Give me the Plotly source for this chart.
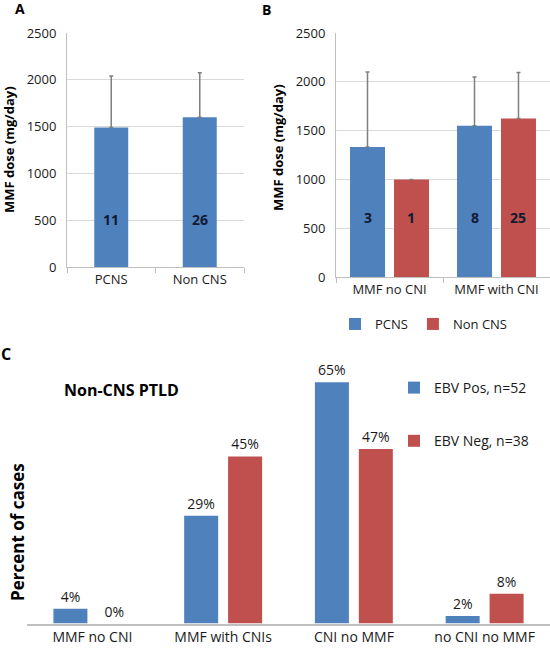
import plotly.graph_objects as go

# ---------------- data ----------------
# Panel A
a_categories = ["PCNS", "Non CNS"]
a_means = [1490, 1600]
a_sd = [550, 475]
a_counts = ["11", "26"]

# Panel B
b_categories = ["MMF no CNI", "MMF with CNI"]
b_pcns_means = [1333, 1550]
b_pcns_sd = [767, 500]
b_pcns_counts = ["3", "8"]
b_noncns_means = [1000, 1625]
b_noncns_sd = [0, 470]
b_noncns_counts = ["1", "25"]
b_series = ["PCNS", "Non CNS"]

# Panel C
c_categories = ["MMF no CNI", "MMF with CNIs", "CNI no MMF", "no CNI no MMF"]
c_ebv_pos = [4, 29, 65, 2]
c_ebv_neg = [0, 45, 47, 8]
c_series = ["EBV Pos, n=52", "EBV Neg, n=38"]

a_ticks = [0, 500, 1000, 1500, 2000, 2500]

# ---------------- style ----------------
BLUE = "#4F81BD"
RED = "#C0504D"
GRID = "#d9d9d9"
AXIS = "#bfbfbf"
ERR = "#7f7f7f"
FONT = "Open Sans"
TXT = "#1a1a1a"

W, H = 550, 653


def px_x(x):
    return x / W


def px_y(y):
    return 1 - y / H


# bar geometry (in category units)
a_width = 0.384
b_width = 0.327
b_offsets = [-0.369, 0.042]
c_width = 0.26
c_offsets = [-0.298, 0.038]

fig = go.Figure()

# Panel A
fig.add_trace(go.Bar(
    x=a_categories, y=a_means, width=a_width,
    marker=dict(color=BLUE, line=dict(width=0)),
    error_y=dict(type="data", array=a_sd, arrayminus=[0] * len(a_sd), symmetric=False,
                 color=ERR, thickness=1.5, width=2),
    xaxis="x", yaxis="y", showlegend=False, hoverinfo="skip",
))

# Panel B
for name, means, sd, col, off in [
    (b_series[0], b_pcns_means, b_pcns_sd, BLUE, b_offsets[0]),
    (b_series[1], b_noncns_means, b_noncns_sd, RED, b_offsets[1]),
]:
    fig.add_trace(go.Bar(
        x=b_categories, y=means, name=name, width=b_width, offset=off,
        marker=dict(color=col, line=dict(width=0)),
        error_y=dict(type="data", array=sd, arrayminus=[0] * len(sd), symmetric=False,
                     color=ERR, thickness=1.5, width=2),
        xaxis="x2", yaxis="y2", legend="legend", hoverinfo="skip",
    ))

# Panel C
for i, (name, vals, col, off) in enumerate([
    (c_series[0], c_ebv_pos, BLUE, c_offsets[0]),
    (c_series[1], c_ebv_neg, RED, c_offsets[1]),
]):
    fig.add_trace(go.Bar(
        x=c_categories, y=vals, name=name, width=c_width, offset=off,
        marker=dict(color=col, line=dict(width=0)),
        text=[f"{v}%" for v in vals], textposition="outside",
        textfont=dict(family=FONT, size=14, color=TXT), cliponaxis=False,
        xaxis="x3", yaxis="y3", legend="legend2", legendgroup=f"g{i}", hoverinfo="skip",
    ))

annotations = []
# count labels inside bars
for i, c in enumerate(a_counts):
    annotations.append(dict(x=i, y=510, xref="x", yref="y", text=f"<b>{c}</b>",
                            showarrow=False, font=dict(family=FONT, size=14, color="#111a33")))
for counts, off in [(b_pcns_counts, b_offsets[0]), (b_noncns_counts, b_offsets[1])]:
    for i, c in enumerate(counts):
        annotations.append(dict(x=i + off + b_width / 2, y=610, xref="x2", yref="y2",
                                text=f"<b>{c}</b>", showarrow=False,
                                font=dict(family=FONT, size=14, color="#111a33")))


def paper_text(x, y, text, size, angle=0):
    return dict(x=px_x(x), y=px_y(y), xref="paper", yref="paper", text=text,
                xanchor="center", yanchor="middle", showarrow=False, textangle=angle,
                font=dict(family=FONT, size=size, color="black"))


# panel letters and titles
annotations += [
    paper_text(20, 9, "<b>A</b>", 14),
    paper_text(266, 10, "<b>B</b>", 14),
    paper_text(6, 354, "<b>C</b>", 16),
    paper_text(9, 150, "<b>MMF dose (mg/day)</b>", 13, -90),
    paper_text(278, 148, "<b>MMF dose (mg/day)</b>", 13, -90),
    paper_text(121, 390, "<b>Non-CNS PTLD</b>", 16),
    paper_text(17, 532, "<b>Percent of cases</b>", 17, -90),
]

tickfont = dict(family=FONT, size=13, color=TXT)

fig.update_layout(
    width=W, height=H,
    margin=dict(l=0, r=0, t=0, b=0, autoexpand=False),
    paper_bgcolor="white", plot_bgcolor="white",
    barmode="overlay",
    annotations=annotations,
    xaxis=dict(domain=[px_x(67), px_x(244)], anchor="y", type="category",
               showline=True, linecolor=AXIS, linewidth=1,
               ticks="outside", tickson="boundaries", ticklen=5, tickcolor=AXIS,
               tickfont=tickfont, showgrid=False),
    yaxis=dict(domain=[px_y(267), px_y(33)], anchor="x", range=[0, 2500],
               tickvals=a_ticks, showgrid=True, gridcolor=GRID, zeroline=False,
               showline=True, linecolor=AXIS, linewidth=1, tickfont=tickfont,
               ticklabelstandoff=7),
    xaxis2=dict(domain=[px_x(336), 1.0], anchor="y2", type="category",
                showline=True, linecolor=AXIS, linewidth=1,
                ticks="outside", tickson="boundaries", ticklen=5, tickcolor=AXIS,
                tickfont=tickfont, showgrid=False),
    yaxis2=dict(domain=[px_y(277), px_y(33)], anchor="x2", range=[0, 2500],
                tickvals=a_ticks, showgrid=True, gridcolor=GRID, zeroline=False,
                showline=True, linecolor=AXIS, linewidth=1, tickfont=tickfont,
                ticklabelstandoff=7),
    xaxis3=dict(domain=[px_x(27), 1.0], anchor="y3", type="category",
                showline=True, linecolor=AXIS, linewidth=1.5, ticks="",
                tickfont=dict(family=FONT, size=14, color=TXT), showgrid=False),
    yaxis3=dict(domain=[px_y(623.5), px_y(623.5 - 70 * 3.713)], anchor="x3", range=[0, 70],
                visible=False, showgrid=False, zeroline=False),
    legend=dict(orientation="h", x=px_x(424), xanchor="center", y=px_y(324), yanchor="middle",
                font=dict(family=FONT, size=13, color=TXT), bgcolor="rgba(0,0,0,0)",
                itemwidth=30, tracegroupgap=0),
    legend2=dict(orientation="v", x=px_x(394), xanchor="left", y=px_y(372), yanchor="top",
                 font=dict(family=FONT, size=14, color=TXT), bgcolor="rgba(0,0,0,0)",
                 tracegroupgap=32, itemwidth=30),
)

fig.write_html(
    "out.html",
    config={"displayModeBar": False},
    post_script="document.body.style.margin='0';document.body.style.overflow='hidden';",
)
